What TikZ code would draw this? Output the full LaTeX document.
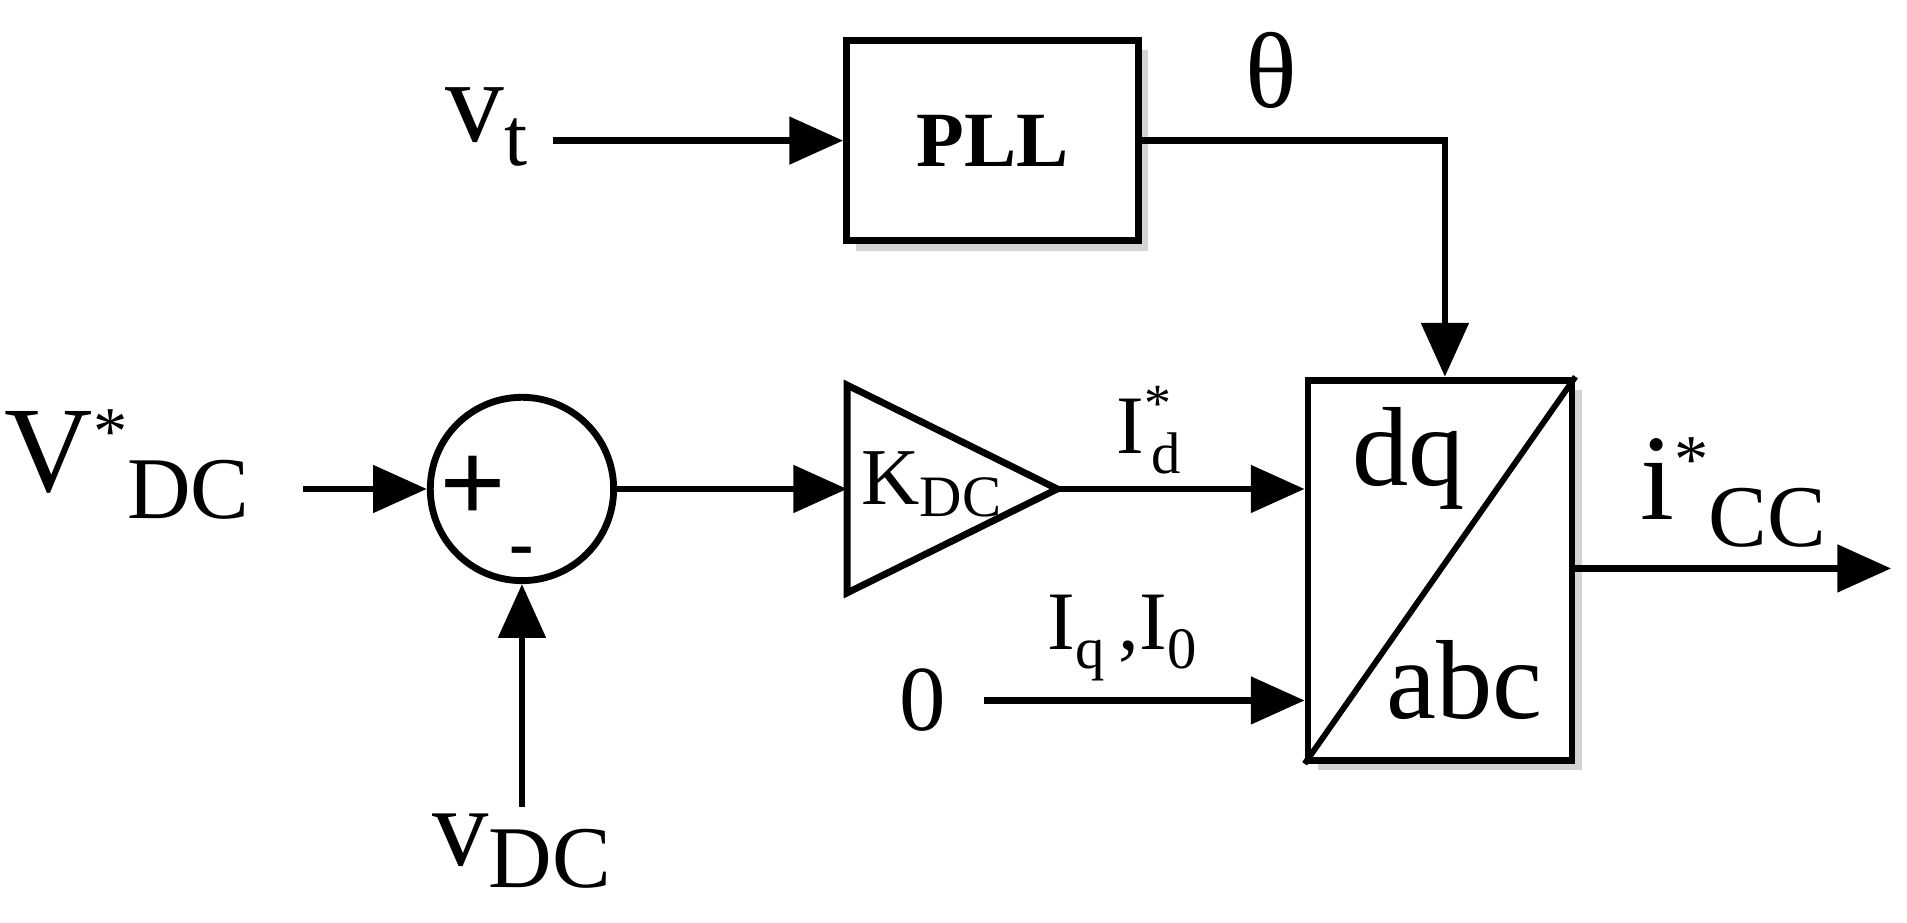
\documentclass[tikz,border=0pt]{standalone}
\usepackage{fontspec}
\setmainfont{Liberation Serif}
\usetikzlibrary{arrows.meta,shadows}
\newcommand{\fs}[1]{\fontsize{#1}{#1}\selectfont}
\begin{document}
\begin{tikzpicture}[x=0.5pt,y=-0.5pt,
  line width=2.8pt,
  arr/.style={-{Triangle[length=22pt,width=19pt]}},
  blk/.style={draw,fill=white,drop shadow={shadow xshift=4pt,shadow yshift=-4pt,opacity=0.35}},
  lbl/.style={inner sep=0pt}]
\useasboundingbox (0,0) rectangle (1560,755);
% PLL
\node[blk,minimum width=119.5pt,minimum height=82pt] (pll) at (812,115) {\fs{32}\bfseries PLL};
\node[lbl] (vt) at (398,104) {\fs{48}v\raisebox{-10pt}{\fs{34}t}};
\coordinate (vts) at (452,115);
\draw[arr] (vts) -- (pll.west);
\node[lbl] (theta) at (1040,58) {\fs{44}θ};
% dq/abc block
\node[blk,minimum width=108pt,minimum height=155.5pt] (tr) at (1178,466.5) {};
\draw[line width=2.4pt] (tr.south west) -- (tr.north east);
\node[lbl] (dq) at (1152,375) {\fs{46}dq};
\node[lbl] (abc) at (1198,556) {\fs{46}abc};
\coordinate (corner) at (1182,115);
\draw[arr] (pll.east |- corner) -- (corner) -- (tr.north -| corner);
% summing junction
\node[draw,circle,minimum size=75pt,inner sep=0pt] (sum) at (427,400) {};
\node[lbl] (plus) at (387,400) {\fs{48}\bfseries +};
\node[lbl] (minus) at (427,456) {\fs{30}\bfseries -};
\node[lbl] (vref) at (104,380) {\fs{50}V\raisebox{15pt}{\fs{28}*}\raisebox{-11pt}{\fs{36}DC}};
\coordinate (vrefs) at (248,400);
\draw[arr] (vrefs) -- (sum.west);
\node[lbl] (vdc) at (427,696) {\fs{46}v\raisebox{-9pt}{\fs{36}DC}};
\coordinate (vdcs) at (427,660);
\draw[arr] (vdcs) -- (sum.south);
% gain
\coordinate (g1) at (693,315);
\coordinate (g2) at (865,400);
\coordinate (g3) at (693,485);
\draw[line join=miter] (g1) -- (g2) -- (g3) -- cycle;
\node[lbl] (kdc) at (762,396) {\fs{33}K\raisebox{-5pt}{\fs{24}DC}};
\coordinate (gin) at (693,400);
\draw[arr] (sum.east) -- (gin);
\draw[arr] (g2) -- (tr.west |- g2);
\node[lbl] (id) at (940,352) {\fs{34}I\raisebox{13pt}{\fs{22}*}\kern-8pt\raisebox{-8pt}{\fs{24}d}};
\node[lbl] (zero) at (755,573) {\fs{38}0};
\coordinate (zs) at (805,573);
\draw[arr] (zs) -- (tr.west |- zs);
\node[lbl] (iq) at (918,522) {\fs{34}I\raisebox{-8pt}{\fs{24}q}\,,I\raisebox{-8pt}{\fs{24}0}};
% output
\coordinate (out) at (1547,465);
\draw[arr] (tr.east |- out) -- (out);
\node[lbl] (icc) at (1418,403) {\fs{50}i\raisebox{15pt}{\fs{28}*}\raisebox{-11pt}{\fs{36}CC}};
\end{tikzpicture}
\end{document}
